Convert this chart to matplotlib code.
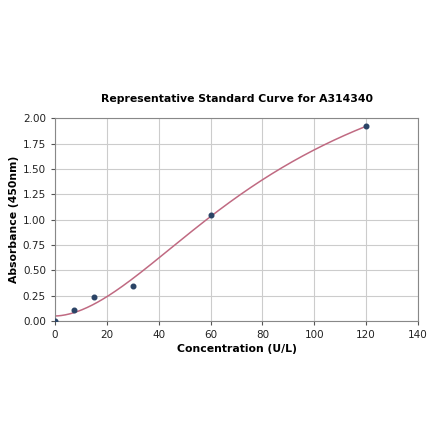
import matplotlib
matplotlib.use("Agg")
import matplotlib.pyplot as plt
import numpy as np

# standard points
conc = [0, 7.5, 15, 30, 60, 120]
absorb = [0.0, 0.11, 0.235, 0.35, 1.05, 1.92]

# 4PL fit parameters (a, b, c, d)
fit_a, fit_b, fit_c, fit_d = 0.05, 1.8, 88.4, 3.0

xs = np.linspace(0, 120, 300)
ys = fit_d + (fit_a - fit_d) / (1 + (xs / fit_c) ** fit_b)

fig = plt.figure(figsize=(4.4, 4.41), dpi=100)
ax = fig.add_axes([0.125, 0.272, 0.825, 0.46])

ax.plot(xs, ys, color="#c06a82", lw=1.1, zorder=2)
ax.scatter(conc, absorb, s=11, color="#2b4466", zorder=3)

ax.set_xlim(0, 140)
ax.set_ylim(0, 2.0)
ax.set_xticks(range(0, 141, 20))
ax.set_yticks(np.arange(0, 2.01, 0.25))
ax.set_yticklabels([f"{v:.2f}" for v in np.arange(0, 2.01, 0.25)])
ax.tick_params(labelsize=7.5, length=3, color="#555555", labelcolor="#222222")
ax.grid(True, color="#cccccc", lw=0.8)
ax.set_axisbelow(True)
for s in ax.spines.values():
    s.set_color("#888888")

ax.set_title("Representative Standard Curve for A314340", fontsize=7.8, fontweight="bold", pad=12)
ax.set_xlabel("Concentration (U/L)", fontsize=7.8, fontweight="bold", labelpad=3)
ax.set_ylabel("Absorbance (450nm)", fontsize=7.8, fontweight="bold", labelpad=3)

fig.savefig("out.png", dpi=100)
